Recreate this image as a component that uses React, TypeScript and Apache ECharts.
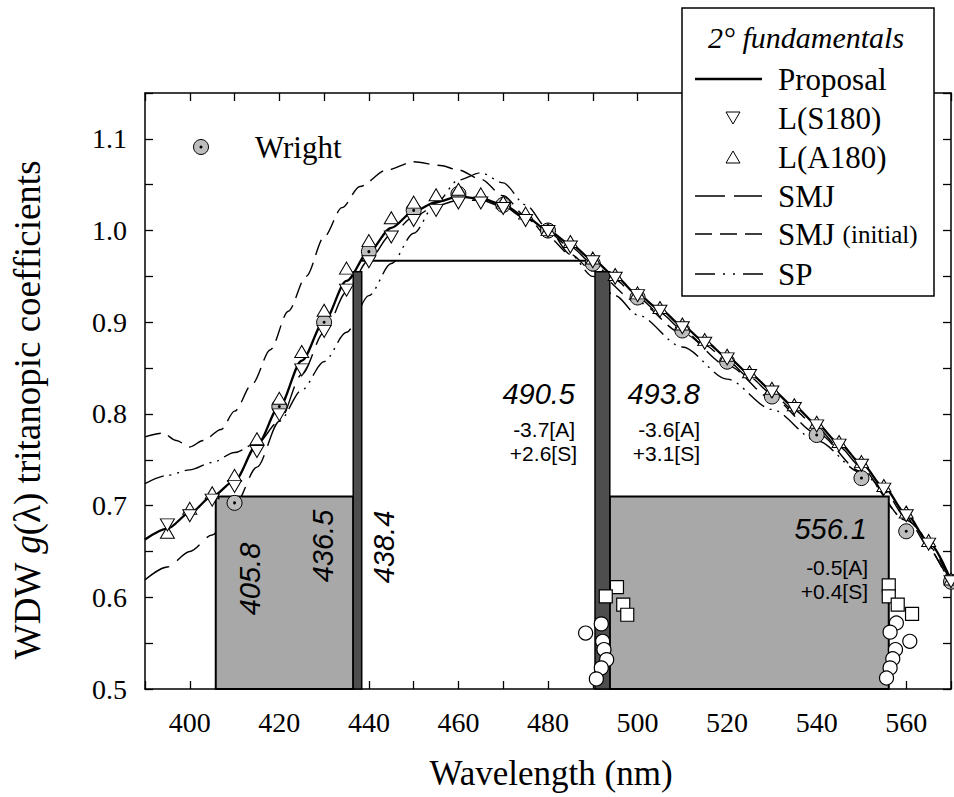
import React, { useEffect, useRef } from 'react';
import * as echarts from 'echarts';

// ---------- data ----------
const WL = [390, 395, 400, 405, 410, 415, 420, 425, 430, 435, 440, 445, 450, 455, 460, 465, 470, 475, 480, 485, 490, 495, 500, 505, 510, 515, 520, 525, 530, 535, 540, 545, 550, 555, 560, 565, 570];
const PROPOSAL = [0.663, 0.675, 0.692, 0.710, 0.727, 0.766, 0.808, 0.858, 0.901, 0.945, 0.977, 1.003, 1.021, 1.031, 1.037, 1.035, 1.028, 1.015, 1.000, 0.985, 0.968, 0.950, 0.930, 0.914, 0.896, 0.879, 0.862, 0.844, 0.826, 0.808, 0.789, 0.768, 0.746, 0.720, 0.691, 0.660, 0.618];
const SMJ = [0.619, 0.633, 0.650, 0.668, 0.700, 0.742, 0.792, 0.843, 0.889, 0.933, 0.968, 0.996, 1.015, 1.027, 1.033, 1.033, 1.026, 1.013, 0.998, 0.982, 0.964, 0.946, 0.927, 0.910, 0.892, 0.875, 0.858, 0.840, 0.822, 0.804, 0.785, 0.764, 0.742, 0.716, 0.687, 0.656, 0.615];

const WL_SMJ_INIT = [390, 394, 397, 400, 403, 407, 410, 414, 418, 422, 426, 430, 434, 438, 444, 450, 456, 460, 465, 470, 475, 480, 485, 490, 500, 510, 520, 530, 540, 550, 560, 570];
const SMJ_INIT = [0.775, 0.779, 0.771, 0.764, 0.771, 0.783, 0.803, 0.833, 0.870, 0.912, 0.950, 0.993, 1.025, 1.048, 1.066, 1.075, 1.071, 1.066, 1.056, 1.038, 1.016, 0.993, 0.974, 0.956, 0.922, 0.888, 0.853, 0.817, 0.779, 0.737, 0.684, 0.613];

const WL_SP = [390, 395, 400, 405, 410, 415, 420, 425, 430, 435, 440, 445, 450, 455, 460, 465, 470, 475, 480, 485, 490, 495, 500, 510, 520, 530, 540, 550, 560, 570];
const SP = [0.724, 0.733, 0.739, 0.747, 0.758, 0.768, 0.792, 0.826, 0.857, 0.889, 0.929, 0.964, 0.997, 1.030, 1.055, 1.063, 1.052, 1.028, 1.002, 0.974, 0.950, 0.929, 0.908, 0.873, 0.838, 0.805, 0.771, 0.736, 0.684, 0.614];

const WL_TRI = [395, 400, 405, 410, 415, 420, 425, 430, 435, 440, 445, 450, 455, 460, 465, 470, 475, 480, 485, 490, 495, 500, 505, 510, 515, 520, 525, 530, 535, 540, 545, 550, 555, 560, 565, 570];
const L_A180 = [0.671, 0.697, 0.714, 0.733, 0.773, 0.817, 0.868, 0.913, 0.959, 0.989, 1.014, 1.031, 1.039, 1.045, 1.040, 1.031, 1.019, 1.001, 0.988, 0.970, 0.952, 0.932, 0.916, 0.898, 0.881, 0.864, 0.846, 0.828, 0.810, 0.791, 0.770, 0.748, 0.722, 0.693, 0.662, 0.620];
const L_S180 = [0.679, 0.689, 0.706, 0.721, 0.759, 0.799, 0.848, 0.890, 0.935, 0.966, 0.993, 1.011, 1.022, 1.030, 1.030, 1.024, 1.011, 0.999, 0.982, 0.966, 0.948, 0.929, 0.912, 0.894, 0.877, 0.860, 0.842, 0.824, 0.806, 0.787, 0.766, 0.744, 0.718, 0.689, 0.658, 0.617];

const WL_WRIGHT = [410, 420, 430, 440, 450, 460, 470, 480, 490, 500, 510, 520, 530, 540, 550, 560, 570];
const WRIGHT = [0.703, 0.808, 0.900, 0.977, 1.022, 1.040, 1.028, 1.000, 0.964, 0.927, 0.891, 0.857, 0.819, 0.777, 0.730, 0.672, 0.617];

// shaded ranges: [from nm, to nm, bottom value, top value]
const WIDE_RANGES = [[405.8, 436.5, 0.5, 0.71], [493.8, 556.1, 0.5, 0.71]];
const NARROW_RANGES = [[436.5, 438.4, 0.5, 0.955], [490.5, 493.8, 0.5, 0.955]];
const PLATEAU = [[438.4, 0.967], [489.5, 0.967]];

const OPEN_CIRCLES = [[491.9, 0.571], [488.4, 0.561], [492.2, 0.552], [492.5, 0.543], [493.1, 0.532], [491.9, 0.523], [490.8, 0.511],
  [557.8, 0.572], [556.4, 0.562], [560.8, 0.552], [557.6, 0.543], [557.0, 0.533], [556.4, 0.523], [555.6, 0.512]];
const OPEN_SQUARES = [[495.4, 0.611], [492.9, 0.601], [496.8, 0.592], [497.7, 0.581],
  [556.1, 0.613], [556.1, 0.601], [558.1, 0.592], [561.3, 0.582]];

const X_MIN = 390, X_MAX = 570, X_STEP = 10;
const Y_MIN = 0.5, Y_MAX = 1.15, Y_STEP = 0.05;

const ANNOT_MAIN = [
  { t: '490.5', x: 575, y: 394 }, { t: '493.8', x: 700, y: 394 }, { t: '556.1', x: 867, y: 529 },
];
const ANNOT_SUB = [
  { t: '-3.7[A]', x: 575, y: 429 }, { t: '+2.6[S]', x: 577, y: 453 },
  { t: '-3.6[A]', x: 700, y: 429 }, { t: '+3.1[S]', x: 700, y: 453 },
  { t: '-0.5[A]', x: 868, y: 567 }, { t: '+0.4[S]', x: 868, y: 591 },
];
const ANNOT_ROT = [
  { t: '405.8', x: 250, y: 579 }, { t: '436.5', x: 323, y: 546 }, { t: '438.4', x: 384, y: 547 },
];

// ---------- helpers ----------
const zip = (xs: number[], ys: number[]) => xs.map((x, i) => [x, ys[i]]);
const SERIF = 'Liberation Serif';
const SANS = 'Liberation Sans';

const text = (t: string, x: number, y: number, o: any = {}) => ({
  type: 'text', x, y, z: 60, rotation: o.rotation || 0,
  style: {
    text: t, fill: '#000', fontSize: o.fontSize || 30, fontFamily: o.fontFamily || SERIF,
    fontStyle: o.fontStyle || 'normal', rich: o.rich,
    textAlign: o.align || 'left', align: o.align || 'left',
    textVerticalAlign: 'middle', verticalAlign: 'middle',
  },
});

const line = (x1: number, x2: number, y: number, dash: any, w = 1.5) => ({
  type: 'line', z: 60, shape: { x1, y1: y, x2, y2: y },
  style: { stroke: '#000', lineWidth: w, lineDash: dash },
});

const rangeRender = (fill: string, lw: number) => (params: any, api: any) => {
  const p0 = api.coord([api.value(0), api.value(3)]);
  const p1 = api.coord([api.value(1), api.value(2)]);
  return {
    type: 'rect',
    shape: { x: p0[0], y: p0[1], width: p1[0] - p0[0], height: p1[1] - p0[1] },
    style: { fill, stroke: '#000', lineWidth: lw },
  };
};

const axisCommon = {
  axisLine: { show: true, lineStyle: { color: '#000', width: 1.5 } },
  splitLine: { show: false },
};
const tick = { show: true, inside: true, length: 8, lineStyle: { color: '#000', width: 1.3 } };

export default function App() {
  const ref = useRef<HTMLDivElement>(null);
  useEffect(() => {
    const chart = echarts.init(ref.current!, null, { renderer: 'svg' });
    const lineBase = { type: 'line', showSymbol: false, symbol: 'none', smooth: 0.3, smoothMonotone: 'x', z: 2, silent: true };
    const serifTok = (size: number, style = 'normal') => ({ fontSize: size, fontFamily: SERIF, fontStyle: style, fill: '#000' });
    const option: any = {
      animation: false,
      backgroundColor: '#fff',
      grid: { left: 145, top: 93, right: 3, bottom: 108, containLabel: false },
      xAxis: [
        {
          type: 'value', min: X_MIN, max: X_MAX, interval: X_STEP, position: 'bottom', ...axisCommon,
          axisTick: tick,
          axisLabel: {
            show: true, margin: 19, color: '#000', fontSize: 28, fontFamily: SERIF,
            formatter: (v: number) => (Math.round(v) % 20 === 0 ? String(Math.round(v)) : ''),
          },
        },
        {
          type: 'value', min: X_MIN, max: X_MAX, interval: X_STEP, position: 'top', ...axisCommon,
          axisTick: tick, axisLabel: { show: false },
        },
      ],
      yAxis: [
        {
          type: 'value', min: Y_MIN, max: Y_MAX, interval: Y_STEP, position: 'left', ...axisCommon,
          axisTick: tick,
          axisLabel: {
            show: true, margin: 18, color: '#000', fontSize: 28, fontFamily: SERIF,
            formatter: (v: number) => {
              const k = Math.round(v * 100);
              return k % 10 === 0 && k < 115 ? (k / 100).toFixed(1) : '';
            },
          },
        },
        {
          type: 'value', min: Y_MIN, max: Y_MAX, interval: Y_STEP, position: 'right', ...axisCommon,
          axisTick: tick, axisLabel: { show: false },
        },
      ],
      series: [
        { ...lineBase, name: 'SMJ (initial)', data: zip(WL_SMJ_INIT, SMJ_INIT), lineStyle: { color: '#000', width: 1.4, type: [16, 8] } },
        { ...lineBase, name: 'SMJ', data: zip(WL, SMJ), lineStyle: { color: '#000', width: 1.4, type: [28, 10] } },
        { ...lineBase, name: 'SP', data: zip(WL_SP, SP), lineStyle: { color: '#000', width: 1.4, type: [20, 6, 2, 6, 2, 6] } },
        { ...lineBase, name: 'Proposal', data: zip(WL, PROPOSAL), lineStyle: { color: '#000', width: 2.3, type: 'solid' } },
        {
          type: 'custom', name: 'ranges', z: 3, silent: true, data: WIDE_RANGES,
          encode: { x: [0, 1], y: [2, 3] }, renderItem: rangeRender('#a8a8a8', 2),
        },
        {
          type: 'custom', name: 'bars', z: 3, silent: true, data: NARROW_RANGES,
          encode: { x: [0, 1], y: [2, 3] }, renderItem: rangeRender('#4e4e4e', 1.5),
        },
        { ...lineBase, smooth: false, z: 3, name: 'plateau', data: PLATEAU, lineStyle: { color: '#000', width: 2 } },
        {
          type: 'scatter', name: 'Wright', z: 4, silent: true, data: zip(WL_WRIGHT, WRIGHT), symbol: 'circle', symbolSize: 15,
          itemStyle: { color: '#bdbdbd', borderColor: '#000', borderWidth: 1, opacity: 1 },
        },
        {
          type: 'scatter', name: 'Wright centre', z: 4, silent: true, data: zip(WL_WRIGHT, WRIGHT), symbol: 'circle', symbolSize: 3,
          itemStyle: { color: '#000', opacity: 1 },
        },
        {
          type: 'scatter', name: 'L(A180)', z: 5, silent: true, data: zip(WL_TRI, L_A180), symbol: 'triangle', symbolSize: [14, 12],
          itemStyle: { color: '#fff', borderColor: '#000', borderWidth: 1, opacity: 1 },
        },
        {
          type: 'scatter', name: 'L(S180)', z: 5, silent: true, data: zip(WL_TRI, L_S180), symbol: 'triangle', symbolSize: [14, 12], symbolRotate: 180,
          itemStyle: { color: '#fff', borderColor: '#000', borderWidth: 1, opacity: 1 },
        },
        {
          type: 'scatter', name: 'open circles', z: 6, silent: true, data: OPEN_CIRCLES, symbol: 'circle', symbolSize: 14,
          itemStyle: { color: '#fff', borderColor: '#000', borderWidth: 1.2, opacity: 1 },
        },
        {
          type: 'scatter', name: 'open squares', z: 6, silent: true, data: OPEN_SQUARES, symbol: 'rect', symbolSize: 13,
          itemStyle: { color: '#fff', borderColor: '#000', borderWidth: 1.2, opacity: 1 },
        },
      ],
      graphic: [
        // axis titles
        text('Wavelength (nm)', 551, 773, { fontSize: 35, align: 'center' }),
        text('{n|WDW }{i|g}{n|(λ) tritanopic coefficients}', 27, 410, {
          fontSize: 37, align: 'center', rotation: Math.PI / 2,
          rich: { n: serifTok(37), i: serifTok(37, 'italic') },
        }),
        // Wright key
        { type: 'circle', z: 60, shape: { cx: 201, cy: 147, r: 7.5 }, style: { fill: '#bdbdbd', stroke: '#000', lineWidth: 1 } },
        { type: 'circle', z: 61, shape: { cx: 201, cy: 147, r: 1.5 }, style: { fill: '#000' } },
        text('Wright', 255, 147, { fontSize: 31 }),
        // legend box
        { type: 'rect', z: 55, shape: { x: 682, y: 8, width: 252, height: 288 }, style: { fill: '#fff', stroke: '#000', lineWidth: 1.5 } },
        text('2° fundamentals', 806, 37, { fontSize: 30, fontStyle: 'italic', align: 'center' }),
        line(695, 762, 79, null, 2.3),
        text('Proposal', 778, 79, { fontSize: 31 }),
        { type: 'polygon', z: 60, shape: { points: [[726, 112], [740, 112], [733, 124]] }, style: { fill: '#fff', stroke: '#000', lineWidth: 1 } },
        text('L(S180)', 778, 118, { fontSize: 31 }),
        { type: 'polygon', z: 60, shape: { points: [[726, 163], [740, 163], [733, 151]] }, style: { fill: '#fff', stroke: '#000', lineWidth: 1 } },
        text('L(A180)', 778, 157, { fontSize: 31 }),
        line(695, 762, 196, [30, 9]),
        text('SMJ', 778, 196, { fontSize: 31 }),
        line(695, 762, 234, [17, 8]),
        text('{n|SMJ }{s|(initial)}', 778, 234, { fontSize: 31, rich: { n: serifTok(31), s: serifTok(25) } }),
        line(695, 765, 274, [20, 8, 2, 8, 2, 8]),
        text('SP', 778, 274, { fontSize: 31 }),
        // annotations
        ...ANNOT_MAIN.map((a) => text(a.t, a.x, a.y, { fontSize: 29, fontFamily: SANS, fontStyle: 'italic', align: 'right' })),
        ...ANNOT_SUB.map((a) => text(a.t, a.x, a.y, { fontSize: 21, fontFamily: SANS, align: 'right' })),
        ...ANNOT_ROT.map((a) => text(a.t, a.x, a.y, { fontSize: 29, fontFamily: SANS, fontStyle: 'italic', align: 'center', rotation: Math.PI / 2 })),
      ],
    };
    chart.setOption(option);
    return () => chart.dispose();
  }, []);
  return <div ref={ref} style={{ position: 'absolute', left: 0, top: 0, width: 954, height: 797, background: '#fff' }} />;
}
